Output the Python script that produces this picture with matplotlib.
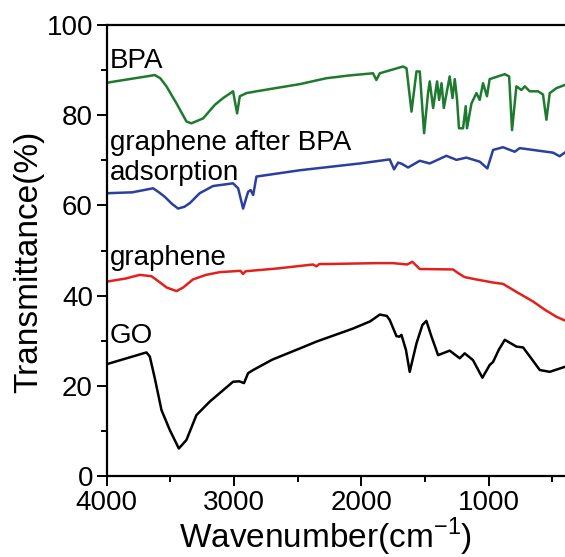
import matplotlib.pyplot as plt
from matplotlib.ticker import MultipleLocator

plt.rcParams['font.family'] = ['Liberation Sans', 'DejaVu Sans']

# GO (black)
go_x = [4000, 3689, 3662, 3623, 3570, 3505, 3434, 3374, 3296, 3191, 3008, 2960, 2922, 2890,
        2850, 2700, 2482, 2353, 2065, 1930, 1855, 1800, 1777, 1724, 1700, 1685, 1650, 1620,
        1567, 1520, 1489, 1450, 1397, 1306, 1227, 1188, 1123, 1049, 992, 965, 920, 873, 782,
        729, 650, 598, 520, 402]
go_y = [24.8, 27.4, 26.5, 21.7, 14.6, 10.2, 6.1, 8.0, 13.5, 16.5, 20.9, 21.0, 20.6, 22.8,
        23.5, 25.8, 28.3, 29.8, 32.7, 34.3, 35.8, 35.5, 34.6, 31.0, 30.9, 31.3, 28.0, 23.1,
        29.4, 33.5, 34.4, 31.0, 26.8, 27.8, 26.1, 27.2, 25.7, 21.8, 24.6, 25.3, 28.0, 30.2,
        28.7, 28.5, 25.5, 23.5, 23.1, 24.2]

# graphene (red)
gr_x = [4000, 3850, 3741, 3649, 3600, 3530, 3452, 3400, 3322, 3220, 3112, 2950, 2929, 2910,
        2667, 2380, 2353, 2330, 2275, 1882, 1751, 1640, 1599, 1541, 1280, 1240, 1188, 1100,
        965, 887, 780, 651, 560, 467, 402]
gr_y = [43.1, 43.8, 44.6, 44.3, 43.3, 41.8, 41.0, 41.8, 43.6, 44.6, 45.2, 45.5, 44.8, 45.4,
        46.0, 46.9, 46.5, 47.0, 47.0, 47.2, 47.2, 46.9, 47.5, 45.9, 45.8, 45.0, 44.1, 43.6,
        42.9, 42.6, 40.8, 38.7, 36.9, 35.3, 34.5]

# graphene after BPA adsorption (blue)
ga_x = [4000, 3800, 3636, 3590, 3544, 3490, 3440, 3390, 3348, 3270, 3165, 3008, 2968, 2929,
        2890, 2870, 2850, 2824, 2482, 2012, 1777, 1743, 1711, 1680, 1633, 1541, 1463, 1332,
        1253, 1175, 1070, 1010, 965, 887, 795, 756, 494, 442, 402]
ga_y = [62.7, 62.9, 63.8, 62.9, 61.9, 60.4, 59.3, 59.7, 60.5, 62.7, 64.3, 64.9, 63.8, 59.3,
        63.0, 63.4, 62.3, 66.4, 67.8, 69.3, 70.2, 68.0, 69.5, 69.2, 68.4, 69.9, 69.3, 71.0,
        70.1, 70.6, 69.7, 68.2, 72.3, 72.9, 71.9, 72.7, 71.7, 70.9, 71.7]

# BPA (green)
bpa_x = [4000, 3623, 3580, 3531, 3452, 3374, 3335, 3243, 3151, 3086, 3008, 2976, 2955, 2903,
         2824, 2482, 2275, 2100, 1908, 1882, 1855, 1672, 1645, 1606, 1567, 1541, 1507, 1476,
         1463, 1436, 1405, 1389, 1370, 1352, 1306, 1284, 1266, 1248, 1233, 1201, 1180, 1170,
         1135, 1096, 1070, 1044, 1013, 992, 873, 839, 816, 782, 742, 716, 677, 612, 573, 546,
         520, 467, 402]
bpa_y = [87.2, 88.9, 88.2, 86.4, 82.6, 78.6, 78.2, 79.3, 82.3, 83.8, 85.3, 80.4, 84.2, 84.9,
         85.3, 86.9, 88.2, 88.8, 89.3, 87.8, 89.3, 90.8, 90.4, 80.8, 89.7, 89.7, 76.0, 84.9,
         87.5, 81.6, 87.5, 83.4, 87.1, 81.6, 88.6, 83.8, 88.0, 83.4, 77.1, 77.1, 82.0, 77.1,
         82.6, 84.9, 83.4, 87.1, 84.2, 88.0, 89.1, 88.6, 76.7, 86.4, 85.6, 86.4, 85.3, 85.3,
         84.6, 79.0, 84.9, 86.0, 86.7]

labels = ['BPA', 'graphene after BPA', 'adsorption', 'graphene', 'GO']
label_y = [90.5, 72.3, 65.6, 46.8, 29.5]

fig = plt.figure(figsize=(5.65, 5.57), dpi=100)
ax = fig.add_axes([0.189, 0.1454, 0.811, 0.8097])

ax.plot(go_x, go_y, color='black', lw=1.8)
ax.plot(gr_x, gr_y, color='#e3211c', lw=1.8)
ax.plot(ga_x, ga_y, color='#2b3f9e', lw=1.8)
ax.plot(bpa_x, bpa_y, color='#1d7a2e', lw=1.8)

for lab, yv in zip(labels, label_y):
    ax.text(3975, yv, lab, fontsize=20, va='baseline', ha='left')

ax.set_xlim(4000, 400)
ax.set_ylim(0, 100)
ax.xaxis.set_major_locator(MultipleLocator(1000))
ax.xaxis.set_minor_locator(MultipleLocator(500))
ax.yaxis.set_major_locator(MultipleLocator(20))
ax.yaxis.set_minor_locator(MultipleLocator(10))
ax.tick_params(which='major', length=7, width=1.4, labelsize=20, pad=3)
ax.tick_params(which='minor', length=4, width=1.4)
ax.spines['right'].set_visible(False)
for s in ['left', 'bottom', 'top']:
    ax.spines[s].set_linewidth(1.6)

fig.text(326 / 565, 1 - 548 / 557, 'Wavenumber(cm$^{\\mathregular{-1}}$)', fontsize=24,
         ha='center', va='baseline')
fig.text(29 / 565, 1 - 262 / 557, 'Transmittance(%)', fontsize=24, rotation=90,
         ha='center', va='center')

fig.savefig('out.png', dpi=100)
